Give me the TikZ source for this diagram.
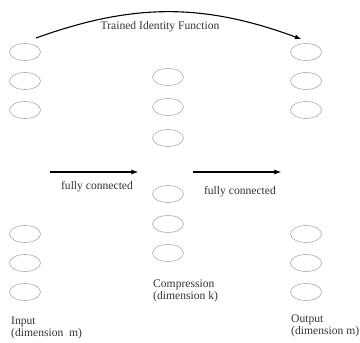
\documentclass[tikz,border=0pt]{standalone}
\usepackage{fontspec}
\setmainfont{Liberation Serif}
\usetikzlibrary{arrows, shapes.geometric}

\begin{document}
\begin{tikzpicture}[x=1pt, y=1pt, node distance=29pt,
   unit/.style={ellipse, draw=gray!65, line width=0.6pt, minimum width=31pt, minimum height=17pt, inner sep=0pt},
   lbl/.style={text=black!80, font=\fontsize{11.6}{12}\selectfont, inner sep=0pt},
   flow/.style={->, >=latex, line width=1.3pt}]
   \useasboundingbox (0,0) rectangle (360,343);

   % input layer
   \node[unit] (in1) at (25,291) {};
   \node[unit] (in2) [below of=in1] {};
   \node[unit] (in3) [below of=in2] {};
   \node[unit] (in4) at (25,109) {};
   \node[unit] (in5) [below of=in4] {};
   \node[unit] (in6) [below of=in5] {};

   % compression layer
   \node[unit] (c1) at (168,266) {};
   \node[unit] (c2) [below of=c1, node distance=30pt] {};
   \node[unit] (c3) [below of=c2, node distance=31pt] {};
   \node[unit] (c4) at (168,149) {};
   \node[unit] (c5) [below of=c4, node distance=30pt] {};
   \node[unit] (c6) [below of=c5] {};

   % output layer
   \node[unit] (out1) at (306,291) {};
   \node[unit] (out2) [below of=out1] {};
   \node[unit] (out3) [below of=out2] {};
   \node[unit] (out4) at (306,109) {};
   \node[unit] (out5) [below of=out4] {};
   \node[unit] (out6) [below of=out5] {};

   \node[lbl, anchor=north west, align=left] (inlbl) at (11,26) {Input\\(dimension\ \ m)};
   \node[lbl, anchor=north west, align=left] (clbl) at (153,63) {Compression\\(dimension k)};
   \node[lbl, anchor=north west, align=left] (outlbl) at (291,28) {Output\\(dimension m)};

   \coordinate (a1) at (50,171);
   \coordinate (b1) at (138,171);
   \coordinate (a2) at (193,171);
   \coordinate (b2) at (281,171);
   \path[flow] (a1) edge (b1);
   \path[flow] (a2) edge (b2);
   \node[lbl] (fc1) at (97,156) {fully connected};
   \node[lbl] (fc2) at (240,151) {fully connected};

   \coordinate (top1) at (36,305);
   \coordinate (top2) at (301,304);
   \path[flow, line width=1.1pt] (top1) edge[bend left=20] (top2);
   \node[lbl] (title) at (160,316) {Trained Identity Function};
\end{tikzpicture}
\end{document}
